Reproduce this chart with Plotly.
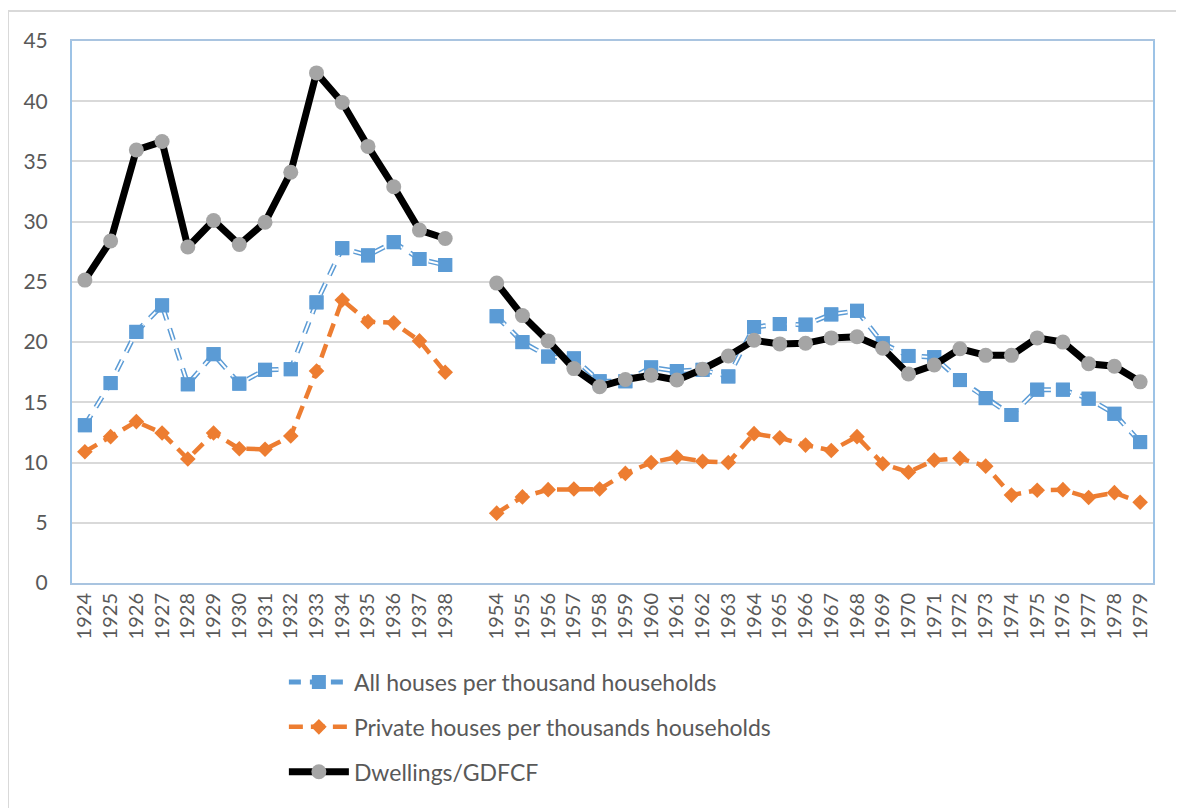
import plotly.graph_objects as go

# ---- data ----
years_a = [str(y) for y in range(1924, 1939)]
years_b = [str(y) for y in range(1954, 1980)]
categories = years_a + [" "] + years_b

all_houses_a = [13.1, 16.6, 20.85, 23.05, 16.5, 19.0, 16.55, 17.7, 17.75, 23.3, 27.8, 27.2, 28.3, 26.9, 26.4]
all_houses_b = [22.15, 20.0, 18.8, 18.65, 16.75, 16.75, 17.9, 17.6, 17.7, 17.15, 21.25, 21.5, 21.45, 22.3, 22.6,
                19.9, 18.85, 18.75, 16.85, 15.35, 13.95, 16.05, 16.05, 15.3, 14.05, 11.7]

private_a = [10.9, 12.15, 13.4, 12.45, 10.3, 12.45, 11.15, 11.1, 12.2, 17.6, 23.5, 21.7, 21.6, 20.1, 17.5]
private_b = [5.8, 7.15, 7.75, 7.8, 7.8, 9.1, 10.0, 10.45, 10.1, 10.0, 12.4, 12.05, 11.45, 11.0, 12.15,
             9.9, 9.2, 10.2, 10.35, 9.7, 7.3, 7.7, 7.75, 7.1, 7.5, 6.7]

dwell_a = [25.15, 28.4, 35.95, 36.65, 27.9, 30.1, 28.1, 29.95, 34.1, 42.35, 39.9, 36.25, 32.9, 29.3, 28.6]
dwell_b = [24.9, 22.2, 20.1, 17.8, 16.3, 16.9, 17.25, 16.85, 17.75, 18.85, 20.15, 19.85, 19.9, 20.35, 20.45,
           19.5, 17.35, 18.1, 19.45, 18.9, 18.9, 20.35, 20.0, 18.2, 18.0, 16.7]

all_houses = all_houses_a + [None] + all_houses_b
private = private_a + [None] + private_b
dwell = dwell_a + [None] + dwell_b

y_ticks = [0, 5, 10, 15, 20, 25, 30, 35, 40, 45]

names = ["All houses per thousand households",
         "Private houses per thousands households",
         "Dwellings/GDFCF"]

BLUE = "#5B9BD5"
ORANGE = "#ED7D31"
GREY = "#A5A5A5"
TXT = "#595959"
FONT = "Lato"

fig = go.Figure()

# All houses: hollow dashed line (blue outer, white inner) + squares
fig.add_trace(go.Scatter(
    x=categories, y=all_houses, name=names[0], mode="lines+markers",
    line=dict(color=BLUE, width=5, dash="12px,9px"),
    marker=dict(symbol="square", size=14, color=BLUE),
    legendgroup="a", connectgaps=False))
fig.add_trace(go.Scatter(
    x=categories, y=all_houses, mode="lines", showlegend=False,
    line=dict(color="white", width=2, dash="12px,9px"),
    legendgroup="a", connectgaps=False, hoverinfo="skip"))
fig.add_trace(go.Scatter(
    x=categories, y=all_houses, mode="markers", showlegend=False,
    marker=dict(symbol="square", size=14, color=BLUE),
    legendgroup="a", hoverinfo="skip"))

# Private houses: orange dashed + diamonds
fig.add_trace(go.Scatter(
    x=categories, y=private, name=names[1], mode="lines+markers",
    line=dict(color=ORANGE, width=4.5, dash="14px,8px"),
    marker=dict(symbol="diamond", size=12, color=ORANGE),
    legendgroup="b", connectgaps=False))

# Dwellings/GDFCF: thick black + grey circles
fig.add_trace(go.Scatter(
    x=categories, y=dwell, name=names[2], mode="lines+markers",
    line=dict(color="black", width=7),
    marker=dict(symbol="circle", size=15, color=GREY),
    legendgroup="c", connectgaps=False))

# outer chart border
fig.add_shape(type="rect", xref="paper", yref="paper",
              x0=-0.0592, x1=1.0268, y0=-0.45, y1=1.0554,
              line=dict(color="#D9D9D9", width=2), fillcolor="rgba(0,0,0,0)", layer="below")

fig.update_layout(
    width=1176, height=800,
    margin=dict(l=64, r=31, t=33, b=225, autoexpand=False),
    paper_bgcolor="white", plot_bgcolor="white",
    font=dict(family=FONT, color=TXT, size=19),
    showlegend=True,
    legend=dict(x=0.196, y=-0.143, xanchor="left", yanchor="top",
                orientation="v", traceorder="grouped", tracegroupgap=12,
                font=dict(size=23, color=TXT, family=FONT),
                itemwidth=60, bgcolor="rgba(0,0,0,0)"),
    xaxis=dict(type="category", categoryorder="array", categoryarray=categories,
               tickangle=-90, tickfont=dict(size=20, color=TXT),
               showgrid=False, showline=True, linecolor="#A9C4E0", linewidth=2,
               mirror=True, ticks="", range=[-0.5, len(categories) - 0.5]),
    yaxis=dict(range=[0, 45], tickvals=y_ticks, tickfont=dict(size=21, color=TXT),
               showgrid=True, gridcolor="#D9D9D9", gridwidth=1.5,
               showline=True, linecolor="#9DC3E6", linewidth=2, mirror=True,
               zeroline=False, ticks="", ticklabelstandoff=18),
)

fig.write_html("out.html")
